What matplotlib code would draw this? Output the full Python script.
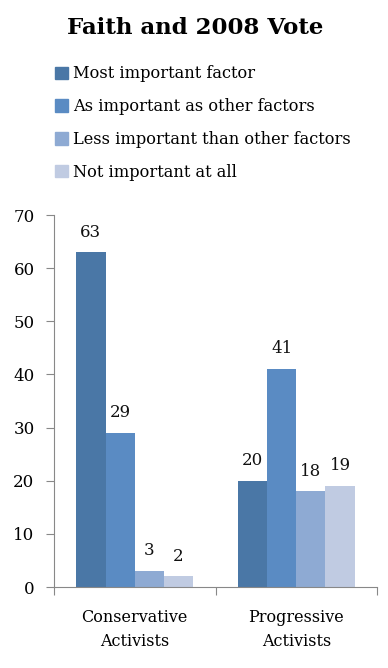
import matplotlib
matplotlib.use("Agg")
import matplotlib.pyplot as plt
from matplotlib.patches import Patch
import numpy as np

categories = ["Conservative\nActivists", "Progressive\nActivists"]
series_names = ["Most important factor", "As important as other factors",
                "Less important than other factors", "Not important at all"]
values = {
    "Most important factor": [63, 20],
    "As important as other factors": [29, 41],
    "Less important than other factors": [3, 18],
    "Not important at all": [2, 19],
}
colors = ["#4a77a6", "#5a8bc3", "#8eaad3", "#c0cbe2"]
yticks = [0, 10, 20, 30, 40, 50, 60, 70]

plt.rcParams['font.family'] = ['DejaVu Serif']
W, H = 388, 668
fig = plt.figure(figsize=(W/100, H/100), dpi=100)
ax = fig.add_axes([54/W, 1-587/H, (377-54)/W, (587-215)/H])

x = np.arange(len(categories))
bw = 0.181
n = len(series_names)
for i, name in enumerate(series_names):
    pos = x + (i - (n-1)/2) * bw
    bars = ax.bar(pos, values[name], width=bw, color=colors[i], label=name)
    for b, v in zip(bars, values[name]):
        ax.text(b.get_x() + b.get_width()/2, v + 2.2, str(v), ha='center', va='bottom',
                fontsize=12, color='#111111')

ax.set_xlim(-0.5, 1.5)
ax.set_ylim(0, 70)
ax.set_yticks(yticks)
ax.set_yticklabels([str(t) for t in yticks], fontsize=12)
ax.set_xticks([-0.5, 0.5, 1.5])
ax.set_xticklabels([])
ax.set_xticks(x, minor=True)
ax.set_xticklabels(categories, minor=True, fontsize=11.5, linespacing=1.55)
ax.tick_params(axis='x', which='minor', length=0, pad=16)
ax.tick_params(axis='x', which='major', length=6, color='#888888', direction='out')
ax.tick_params(axis='y', length=6, color='#888888', direction='out', pad=8)
for s in ['top', 'right']:
    ax.spines[s].set_visible(False)
for s in ['left', 'bottom']:
    ax.spines[s].set_color('#888888')

fig.text(195/W, 1-28/H, "Faith and 2008 Vote", ha='center', va='center',
         fontsize=16.5, fontweight='bold')

handles = [Patch(color=c) for c in colors]
fig.legend(handles, series_names, loc='upper left', bbox_to_anchor=(48/W, 1-59/H),
           frameon=False, fontsize=11.7, handlelength=0.8, handleheight=0.8,
           handletextpad=0.35, labelspacing=0.97, borderaxespad=0)

fig.savefig("out.png", dpi=100)
